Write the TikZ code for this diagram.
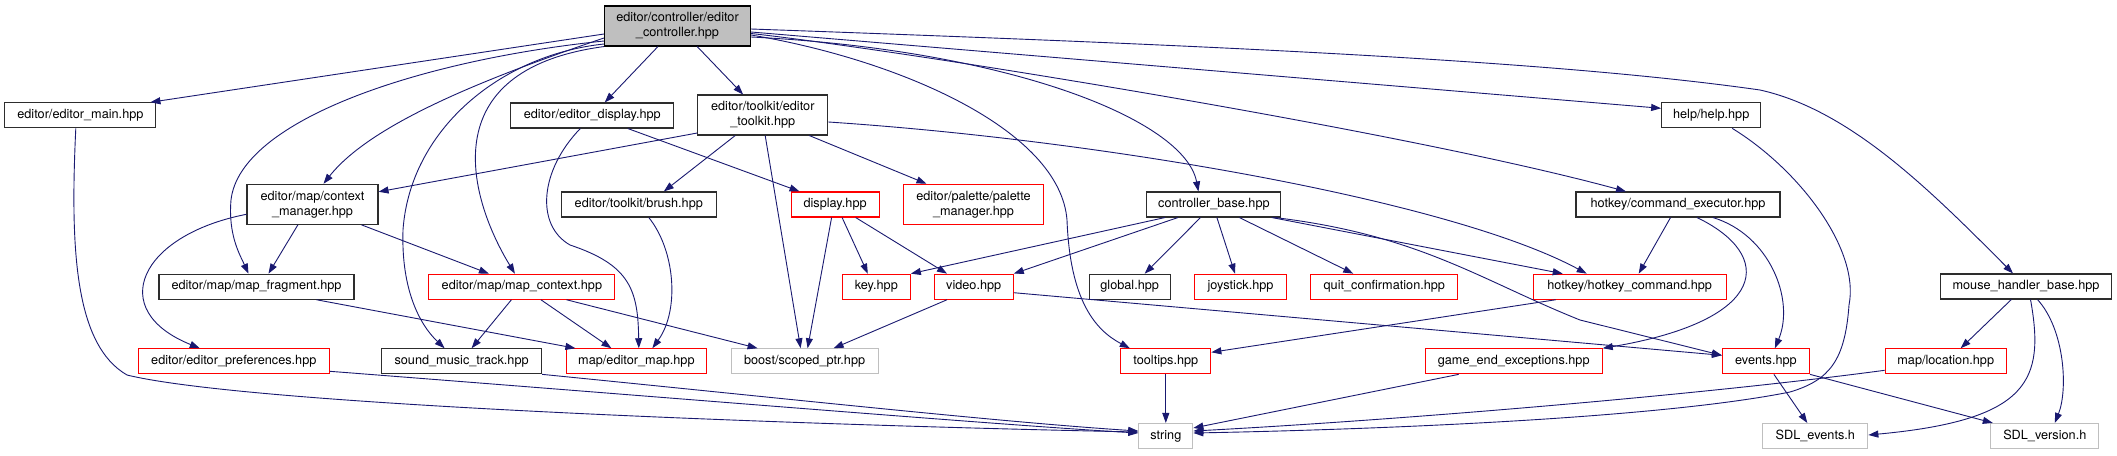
\documentclass[tikz,border=0pt]{standalone}
\usepackage{fontspec}
\setmainfont{TeX Gyre Heros}
\usetikzlibrary{arrows.meta}
\definecolor{edgec}{RGB}{25,25,112}
\definecolor{docb}{RGB}{45,45,45}
\definecolor{undb}{RGB}{255,0,0}
\definecolor{extb}{RGB}{191,191,191}
\definecolor{rootfill}{RGB}{191,191,191}
\newcommand{\dxfont}{\fontsize{12.7pt}{15pt}\selectfont}
\tikzset{
  box/.style={rectangle, draw, line width=1.1pt, inner sep=0pt, minimum height=25pt, font=\dxfont, align=center},
  doc/.style={box, draw=docb},
  und/.style={box, draw=undb},
  ext/.style={box, draw=extb},
  rootbox/.style={box, draw=black, fill=rootfill},
  e/.style={draw=edgec, line width=0.9pt, -{Triangle[length=10pt,width=7pt]}},
}
\begin{document}
\begin{tikzpicture}[x=1pt,y=-1pt]
\fill[white] (0,0) rectangle (2117,455);
\useasboundingbox (0,0) rectangle (2117,455);

% nodes
\node[rootbox, minimum width=146pt, minimum height=40pt] (root) at (677.5,26) {editor/controller/editor\\\_controller.hpp};
\node[doc, minimum width=151pt] (emain) at (80.4,115.3) {editor/editor\_main.hpp};
\node[doc, minimum width=163pt] (edisp) at (592.3,115.5) {editor/editor\_display.hpp};
\node[doc, minimum width=130pt, minimum height=40pt] (etool) at (762.8,115) {editor/toolkit/editor\\\_toolkit.hpp};
\node[doc, minimum width=99pt] (help) at (1711.2,115.3) {help/help.hpp};
\node[doc, minimum width=131pt, minimum height=40pt] (ctxm) at (312.5,204.3) {editor/map/context\\\_manager.hpp};
\node[doc, minimum width=155pt] (brush) at (638.8,204.5) {editor/toolkit/brush.hpp};
\node[und, minimum width=88pt] (disp) at (835.1,204.5) {display.hpp};
\node[und, minimum width=140pt, minimum height=40pt] (palm) at (973.5,204.3) {editor/palette/palette\\\_manager.hpp};
\node[doc, minimum width=134pt] (ctrlb) at (1213.9,204.5) {controller\_base.hpp};
\node[doc, minimum width=204pt] (cmdx) at (1678,204.5) {hotkey/command\_executor.hpp};
\node[doc, minimum width=195pt] (mfrag) at (256.5,286.7) {editor/map/map\_fragment.hpp};
\node[und, minimum width=186pt] (mctx) at (521.9,286.7) {editor/map/map\_context.hpp};
\node[und, minimum width=68pt] (key) at (876.3,286.7) {key.hpp};
\node[und, minimum width=79pt] (video) at (973.7,286.7) {video.hpp};
\node[doc, minimum width=81pt] (global) at (1129.7,286.7) {global.hpp};
\node[und, minimum width=92pt] (joy) at (1240.5,286.7) {joystick.hpp};
\node[und, minimum width=147pt] (quit) at (1384.3,286.7) {quit\_confirmation.hpp};
\node[und, minimum width=193pt] (hkcmd) at (1629.7,286.7) {hotkey/hotkey\_command.hpp};
\node[doc, minimum width=171pt] (mouse) at (2026,286.5) {mouse\_handler\_base.hpp};
\node[und, minimum width=191pt] (epref) at (233.8,361.3) {editor/editor\_preferences.hpp};
\node[doc, minimum width=160pt] (sound) at (461.6,361.3) {sound\_music\_track.hpp};
\node[und, minimum width=140pt] (emap) at (636.4,361.3) {map/editor\_map.hpp};
\node[ext, minimum width=147pt] (boost) at (804.6,361.3) {boost/scoped\_ptr.hpp};
\node[und, minimum width=90pt] (tips) at (1165.8,361.3) {tooltips.hpp};
\node[und, minimum width=177pt] (gend) at (1513.7,361.3) {game\_end\_exceptions.hpp};
\node[und, minimum width=87pt] (events) at (1765.9,361.3) {events.hpp};
\node[und, minimum width=121pt] (loc) at (1945.7,361.3) {map/location.hpp};
\node[ext, minimum width=54pt] (string) at (1165.8,436) {string};
\node[ext, minimum width=105pt] (sdle) at (1815.3,436) {SDL\_events.h};
\node[ext, minimum width=108pt] (sdlv) at (2044.8,436) {SDL\_version.h};

% edges from root
\draw[e] ([yshift=-8pt]root.west) -- ([xshift=-6pt]emain.north east);
\draw[e] ([yshift=-12pt]root.west) .. controls (480,80) and (370,125) .. ([xshift=11pt]ctxm.north);
\draw[e] ([yshift=-15pt]root.west) .. controls (420,60) and (240,120) .. (231,200) .. controls (228,235) and (240,255) .. ([xshift=-8pt]mfrag.north);
\draw[e] ([yshift=-18pt]root.west) .. controls (500,55) and (410,130) .. (403,230) .. controls (401,290) and (420,325) .. ([xshift=-17pt]sound.north);
\draw[e] (root.south west) .. controls (430,70) and (470,200) .. ([xshift=-7pt]mctx.north);
\draw[e] (root) -- (edisp);
\draw[e] (root) -- (etool);
\draw[e] ([yshift=-9pt]root.east) .. controls (900,60) and (1060,130) .. (1067,220) .. controls (1070,300) and (1095,330) .. ([xshift=-36pt]tips.north);
\draw[e] ([yshift=-11pt]root.east) .. controls (1010,50) and (1185,120) .. ([xshift=-15.5pt]ctrlb.north);
\draw[e] ([yshift=-6pt]root.east) -- ([yshift=7pt]help.west);
\draw[e] ([yshift=-7.5pt]root.east) .. controls (900,50) and (1400,130) .. ([xshift=-52pt]cmdx.north);
\draw[e] ([yshift=-3pt]root.east) .. controls (1200,45) and (1550,60) .. (1760,90) .. controls (1850,110) and (1930,190) .. ([xshift=-13pt]mouse.north);

% other edges
\draw[e] ([xshift=-4.6pt]emain.south) .. controls (70,250) and (75,345) .. (127,375) .. controls (250,405) and (800,425) .. ([yshift=4pt]string.west);
\draw[e] (edisp) -- (disp);
\draw[e] ([xshift=-12pt]edisp.south) .. controls (540,170) and (535,225) .. (570,245) .. controls (630,265) and (638,290) .. ([xshift=2.4pt]emap.north);
\draw[e] ([yshift=-18pt]etool.west) -- ([yshift=12.5pt]ctxm.east);
\draw[e] ([xshift=-27.6pt]etool.south) -- ([xshift=25pt]brush.north);
\draw[e] ([xshift=2.4pt]etool.south) -- ([xshift=-4pt]boost.north);
\draw[e] ([xshift=46.5pt]etool.south) -- ([xshift=-47pt]palm.north);
\draw[e] ([yshift=-7pt]etool.east) .. controls (1100,140) and (1450,200) .. ([xshift=-43pt]hkcmd.north);
\draw[e] ([xshift=10pt]brush.south) .. controls (675,250) and (680,310) .. ([xshift=16pt]emap.north);
\draw[e] ([yshift=-10pt]ctxm.west) .. controls (140,235) and (105,310) .. ([xshift=-34pt]epref.north);
\draw[e] ([xshift=-14.6pt]ctxm.south) -- ([xshift=12pt]mfrag.north);
\draw[e] ([xshift=49pt]ctxm.south) -- ([xshift=-33pt]mctx.north);
\draw[e] ([xshift=60pt]mfrag.south) -- ([xshift=-61pt]emap.north);
\draw[e] ([xshift=-10.5pt]mctx.south) -- ([xshift=10pt]sound.north);
\draw[e] ([xshift=19pt]mctx.south) -- ([xshift=-25pt]emap.north);
\draw[e] ([xshift=44.6pt]mctx.south) -- ([xshift=-47pt]boost.north);
\draw[e] ([xshift=-3.5pt]disp.south) -- ([xshift=3pt]boost.north);
\draw[e] ([xshift=7pt]disp.south) -- ([xshift=-8.5pt]key.north);
\draw[e] ([xshift=20.6pt]disp.south) -- ([xshift=-26.7pt]video.north);
\draw[e] ([xshift=-26.7pt]video.south) -- ([xshift=29pt]boost.north);
\draw[e] ([yshift=-6pt]video.east) -- ([yshift=6pt]events.west);
\draw[e] ([xshift=-49pt]ctrlb.south) -- (key.north east);
\draw[e] ([xshift=-36pt]ctrlb.south) -- (video.north east);
\draw[e] ([xshift=-13.4pt]ctrlb.south) -- ([xshift=15pt]global.north);
\draw[e] ([xshift=3pt]ctrlb.south) -- ([xshift=-5.5pt]joy.north);
\draw[e] ([xshift=25.5pt]ctrlb.south) -- ([xshift=-31pt]quit.north);
\draw[e] ([xshift=58pt]ctrlb.south) -- ([xshift=-67pt]hkcmd.north);
\draw[e] ([xshift=61pt]ctrlb.south) .. controls (1420,235) and (1480,280) .. (1580,320) -- ([yshift=6pt]events.west);
\draw[e] ([xshift=-7.5pt]cmdx.south) -- ([xshift=9pt]hkcmd.north);
\draw[e] ([xshift=19pt]cmdx.south) .. controls (1775,255) and (1770,320) .. (gend.north east);
\draw[e] ([xshift=35pt]cmdx.south) .. controls (1770,235) and (1795,300) .. ([xshift=9pt]events.north);
\draw[e] ([xshift=21pt]help.south) .. controls (1800,170) and (1860,250) .. (1849,305) .. controls (1845,360) and (1830,380) .. (1790,392) .. controls (1650,420) and (1350,430) .. ([yshift=3pt]string.east);
\draw[e] ([xshift=-14.7pt]mouse.south) -- ([xshift=15pt]loc.north);
\draw[e] ([xshift=4.5pt]mouse.south) .. controls (2045,380) and (2030,420) .. ([yshift=1pt]sdle.east);
\draw[e] ([xshift=11.5pt]mouse.south) .. controls (2065,330) and (2068,390) .. ([xshift=10pt]sdlv.north);
\draw[e] ([yshift=-10pt]epref.east) .. controls (700,400) and (1000,425) .. ([yshift=3pt]string.west);
\draw[e] (sound.south east) .. controls (800,400) and (1000,422) .. ([yshift=5pt]string.west);
\draw[e] (tips) -- (string);
\draw[e] ([xshift=-55pt]gend.south) -- ([yshift=8pt]string.east);
\draw[e] ([yshift=-9pt]loc.west) .. controls (1700,395) and (1400,420) .. ([yshift=5pt]string.east);
\draw[e] ([xshift=8pt]events.south) -- ([xshift=-8pt]sdle.north);
\draw[e] (events.south east) -- ([xshift=-52pt]sdlv.north);
\draw[e] ([xshift=-74pt]hkcmd.south) -- ([yshift=9pt]tips.east);
\end{tikzpicture}
\end{document}
